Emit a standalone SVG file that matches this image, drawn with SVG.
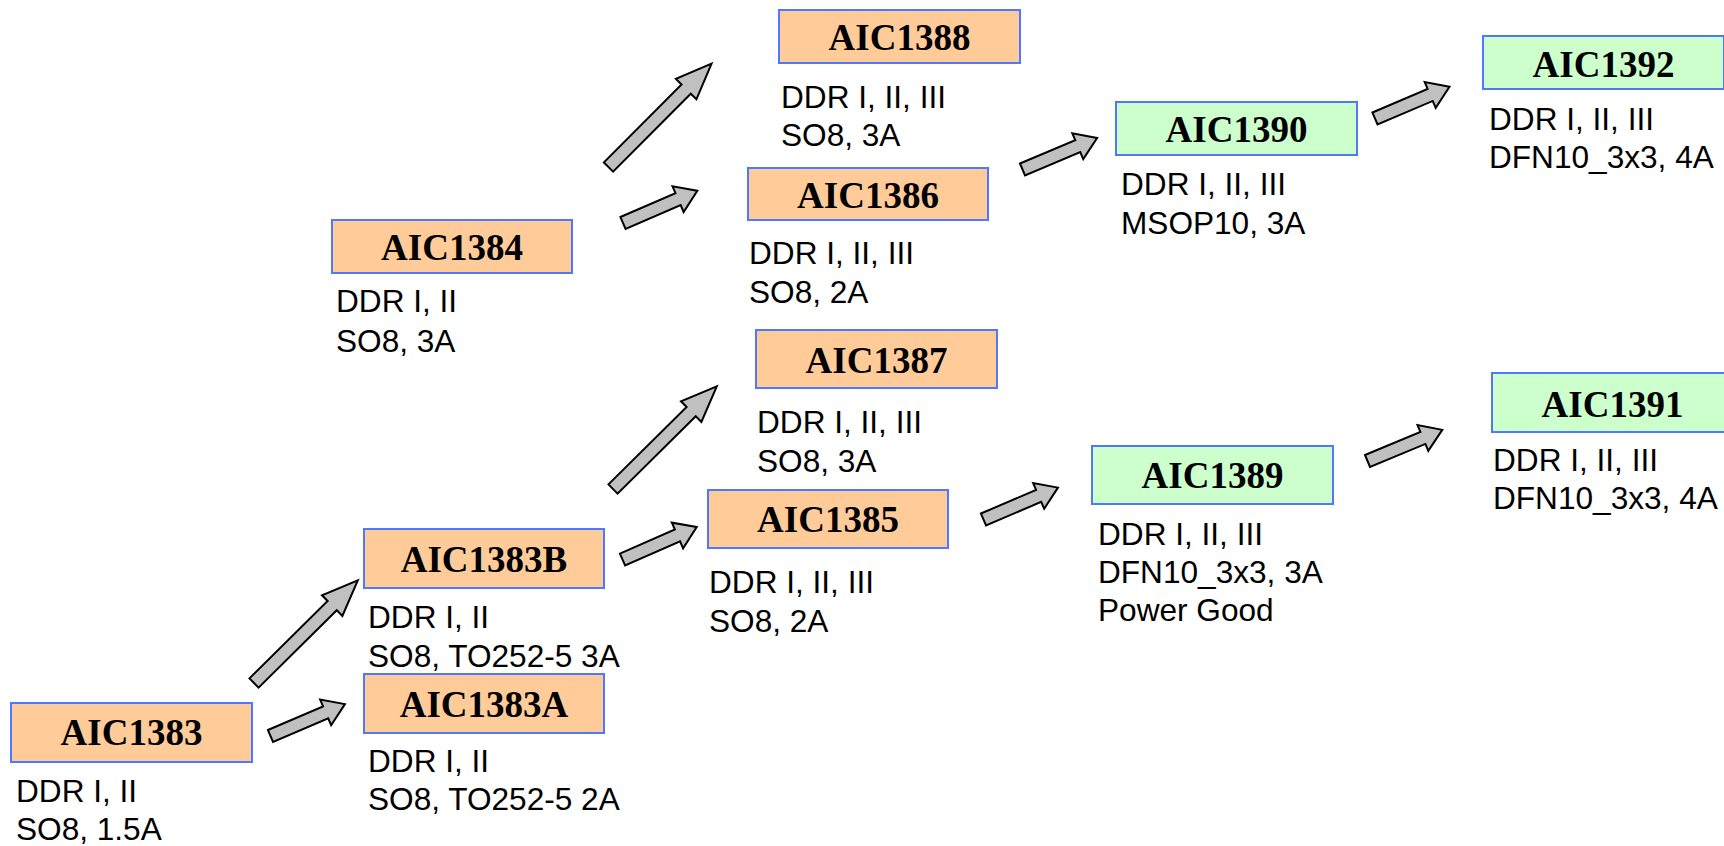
<svg xmlns="http://www.w3.org/2000/svg" xmlns:xlink="http://www.w3.org/1999/xlink" width="1724" height="846" viewBox="0 0 1724 846">
<style>
.box{stroke:#4f77ff;stroke-width:2}
.o{fill:#ffcc99}
.g{fill:#ccffcc}
.t{font-family:"Liberation Serif","Times New Roman",serif;font-weight:bold;font-size:37px;fill:#000;text-anchor:middle}
.d{font-family:"Liberation Sans",Arial,sans-serif;font-size:31.6px;fill:#000}
.arr{fill:#c0c0c0;stroke:#000;stroke-width:2;stroke-linejoin:miter}
</style>
<defs>
<polygon id="arrS" class="arr" points="0,-6.5 60,-6.5 60,-14 81,0 60,14 60,6.5 0,6.5"/>
<polygon id="arrD" class="arr" points="0,-6.5 110,-6.5 110,-14.5 146,0 110,14.5 110,6.5 0,6.5"/>
</defs>
<rect width="1724" height="846" fill="#fff"/>
<g id="connectors">
<use xlink:href="#arrS" transform="translate(270.5,736) rotate(-23.2)"/>
<use xlink:href="#arrD" transform="translate(254,683) rotate(-44.7)"/>
<use xlink:href="#arrS" transform="translate(622.5,559.5) rotate(-23.6)"/>
<use xlink:href="#arrD" transform="translate(613,489) rotate(-44.7)"/>
<use xlink:href="#arrS" transform="translate(623,223) rotate(-23.4)"/>
<use xlink:href="#arrD" transform="translate(608.5,167) rotate(-45.1)"/>
<use xlink:href="#arrS" transform="translate(1022.5,169.5) rotate(-22.9)"/>
<use xlink:href="#arrS" transform="translate(983.5,519.5) rotate(-23.2)"/>
<use xlink:href="#arrS" transform="translate(1375,118.5) rotate(-23.1)"/>
<use xlink:href="#arrS" transform="translate(1367.5,461) rotate(-22.6)"/>
</g>
<g id="AIC1383">
<rect class="box o" x="11" y="703" width="241" height="59"/>
<text class="t" x="131.5" y="745">AIC1383</text>
<text class="d" x="16" y="802">DDR I, II</text>
<text class="d" x="16" y="840">SO8, 1.5A</text>
</g>
<g id="AIC1383A">
<rect class="box o" x="364" y="674" width="240" height="59"/>
<text class="t" x="484" y="717">AIC1383A</text>
<text class="d" x="368" y="772">DDR I, II</text>
<text class="d" x="368" y="810">SO8, TO252-5 2A</text>
</g>
<g id="AIC1383B">
<rect class="box o" x="364" y="529" width="240" height="59"/>
<text class="t" x="484" y="572">AIC1383B</text>
<text class="d" x="368" y="628">DDR I, II</text>
<text class="d" x="368" y="667">SO8, TO252-5 3A</text>
</g>
<g id="AIC1384">
<rect class="box o" x="332" y="220" width="240" height="53"/>
<text class="t" x="452" y="260">AIC1384</text>
<text class="d" x="336" y="312">DDR I, II</text>
<text class="d" x="336" y="352">SO8, 3A</text>
</g>
<g id="AIC1385">
<rect class="box o" x="708" y="490" width="240" height="58"/>
<text class="t" x="828" y="532">AIC1385</text>
<text class="d" x="709" y="593">DDR I, II, III</text>
<text class="d" x="709" y="632">SO8, 2A</text>
</g>
<g id="AIC1386">
<rect class="box o" x="748" y="168" width="240" height="52"/>
<text class="t" x="868" y="208">AIC1386</text>
<text class="d" x="749" y="264">DDR I, II, III</text>
<text class="d" x="749" y="303">SO8, 2A</text>
</g>
<g id="AIC1387">
<rect class="box o" x="756" y="330" width="241" height="58"/>
<text class="t" x="876.5" y="373">AIC1387</text>
<text class="d" x="757" y="433">DDR I, II, III</text>
<text class="d" x="757" y="472">SO8, 3A</text>
</g>
<g id="AIC1388">
<rect class="box o" x="779" y="10" width="241" height="53"/>
<text class="t" x="899.5" y="50">AIC1388</text>
<text class="d" x="781" y="108">DDR I, II, III</text>
<text class="d" x="781" y="146">SO8, 3A</text>
</g>
<g id="AIC1389">
<rect class="box g" x="1092" y="446" width="241" height="58"/>
<text class="t" x="1212.5" y="488">AIC1389</text>
<text class="d" x="1098" y="545">DDR I, II, III</text>
<text class="d" x="1098" y="583">DFN10_3x3, 3A</text>
<text class="d" x="1098" y="621">Power Good</text>
</g>
<g id="AIC1390">
<rect class="box g" x="1116" y="102" width="241" height="53"/>
<text class="t" x="1236.5" y="142">AIC1390</text>
<text class="d" x="1121" y="195">DDR I, II, III</text>
<text class="d" x="1121" y="234">MSOP10, 3A</text>
</g>
<g id="AIC1391">
<rect class="box g" x="1492" y="373" width="241" height="59"/>
<text class="t" x="1612.5" y="417">AIC1391</text>
<text class="d" x="1493" y="471">DDR I, II, III</text>
<text class="d" x="1493" y="509">DFN10_3x3, 4A</text>
</g>
<g id="AIC1392">
<rect class="box g" x="1483" y="36" width="241" height="53"/>
<text class="t" x="1603.5" y="77">AIC1392</text>
<text class="d" x="1489" y="130">DDR I, II, III</text>
<text class="d" x="1489" y="168">DFN10_3x3, 4A</text>
</g>
</svg>
